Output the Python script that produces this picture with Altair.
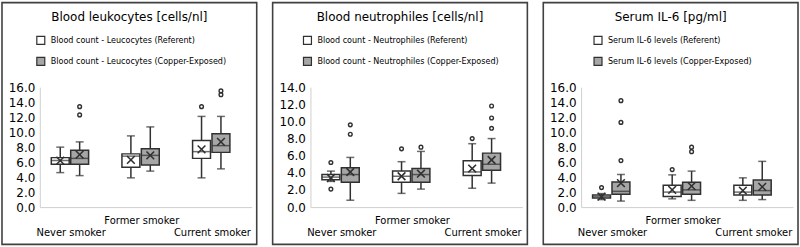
import altair as alt
import pandas as pd

categories = ["Never smoker", "Former smoker", "Current smoker"]

panel_titles = ["Blood leukocytes [cells/nl]", "Blood neutrophiles [cells/nl]", "Serum IL-6 [pg/ml]"]
leuko_labels = ["Blood count - Leucocytes (Referent)", "Blood count - Leucocytes (Copper-Exposed)"]
neutro_labels = ["Blood count - Neutrophiles (Referent)", "Blood count - Neutrophiles (Copper-Exposed)"]
il6_labels = ["Serum IL-6 levels (Referent)", "Serum IL-6 levels (Copper-Exposed)"]

ticks_16 = [0, 2, 4, 6, 8, 10, 12, 14, 16]
ticks_14 = [0, 2, 4, 6, 8, 10, 12, 14]

# (lower whisker, Q1, median, Q3, upper whisker) per category
leuko_ref_box = [(4.6, 5.7, 6.2, 6.6, 8.0), (3.9, 5.3, 6.8, 7.1, 9.5), (3.9, 6.5, 7.4, 8.9, 12.1)]
leuko_exp_box = [(4.2, 5.7, 6.5, 7.6, 8.7), (4.8, 5.6, 6.9, 7.8, 10.7), (5.1, 7.3, 8.2, 9.8, 12.1)]
leuko_ref_mean = [6.2, 6.3, 7.7]
leuko_exp_mean = [7.0, 6.9, 8.7]
leuko_ref_out = [[], [], [13.4]]
leuko_exp_out = [[13.4, 12.3], [], [15.5, 15.0]]

neutro_ref_box = [(3.0, 3.2, 3.5, 3.8, 4.2), (1.6, 2.9, 3.6, 4.2, 5.3), (2.2, 3.7, 4.1, 5.4, 7.4)]
neutro_exp_box = [(0.8, 2.9, 3.8, 4.6, 5.8), (2.1, 2.9, 3.8, 4.5, 6.5), (2.8, 4.3, 5.0, 6.3, 8.0)]
neutro_ref_mean = [3.4, 3.6, 4.5]
neutro_exp_mean = [4.1, 3.9, 5.5]
neutro_ref_out = [[5.2, 2.1], [6.8], [8.0]]
neutro_exp_out = [[9.6, 8.5], [7.0], [11.8, 10.4, 9.2]]

il6_ref_box = [(1.0, 1.2, 1.4, 1.6, 1.8), (1.1, 1.4, 2.0, 2.9, 4.3), (0.9, 1.6, 2.0, 2.9, 3.9)]
il6_exp_box = [(0.8, 1.7, 2.1, 3.35, 4.35), (0.9, 1.7, 2.3, 3.3, 4.8), (1.0, 1.6, 2.2, 3.6, 6.1)]
il6_ref_mean = [1.4, 2.3, 2.2]
il6_exp_mean = [3.2, 2.8, 2.7]
il6_ref_out = [[2.6], [5.0], []]
il6_exp_out = [[14.2, 11.3, 6.2], [8.0, 7.4], []]

INK = "#303030"
AXIS_LINE = "#d0d0d0"
FILL_REF = "#ffffff"
FILL_EXP = "#a6a6a6"
FONT = "DejaVu Sans"
LEGEND_FONT = "DejaVu Sans Condensed, DejaVu Sans"
X_SHAPE = "M-1,-1L1,1M1,-1L-1,1"

W, H = 256, 243
Y_BOTTOM, Y_TOP = 205.5, 85
X_LEFT, X_RIGHT = 38, 251


def frames(labels, ref_box, exp_box, ref_mean, exp_mean, ref_out, exp_out):
    rows, pts = [], []
    for lab, box, mean, outs in [(labels[0], ref_box, ref_mean, ref_out),
                                 (labels[1], exp_box, exp_mean, exp_out)]:
        for c, b, m, o in zip(categories, box, mean, outs):
            rows.append(dict(cat=c, series=lab, lo=b[0], q1=b[1], med=b[2], q3=b[3], hi=b[4], mean=m))
            for v in o:
                pts.append(dict(cat=c, series=lab, v=v))
    return pd.DataFrame(rows), pd.DataFrame(pts)


def panel(title, labels, ticks, box_df, out_df, legend_x):
    ymax = ticks[-1]
    x_enc = alt.X(
        "cat:N", sort=categories,
        scale=alt.Scale(domain=categories, range=[X_LEFT, X_RIGHT], paddingInner=0, paddingOuter=0),
        axis=alt.Axis(title=None, offset=-(H - Y_BOTTOM), ticks=False, domainColor=AXIS_LINE,
                      domainWidth=1, labelAngle=0, labelFont=FONT, labelFontSize=10,
                      labelColor="black", labelPadding=9, labelLineHeight=11.5,
                      labelBaseline="top", labelOffset=-4, labelOverlap=False,
                      labelExpr="datum.value == 'Former smoker' ? [datum.value] : ['', datum.value]"),
    )
    xo_enc = alt.XOffset(
        "series:N", sort=labels,
        scale=alt.Scale(domain=labels, range=[10.8, 49.8], paddingInner=0, paddingOuter=0),
    )

    def y_enc(field):
        return alt.Y(
            f"{field}:Q",
            scale=alt.Scale(domain=[0, ymax], range=[Y_BOTTOM, Y_TOP], nice=False, zero=True),
            axis=alt.Axis(title=None, offset=-X_LEFT, values=ticks, format=".1f", ticks=False,
                          grid=False, domainColor=AXIS_LINE, domainWidth=1, labelFont=FONT,
                          labelFontSize=12, labelColor="black", labelPadding=5),
        )

    base = alt.Chart(box_df)
    whisker = base.mark_rule(color=INK, strokeWidth=1.5).encode(
        x=x_enc, xOffset=xo_enc, y=y_enc("lo"), y2="hi:Q")
    cap_lo = base.mark_tick(color=INK, size=8, thickness=1.5).encode(
        x=x_enc, xOffset=xo_enc, y=y_enc("lo"))
    cap_hi = base.mark_tick(color=INK, size=8, thickness=1.5).encode(
        x=x_enc, xOffset=xo_enc, y=y_enc("hi"))
    box = base.mark_bar(width=18, stroke=INK, strokeWidth=1.5).encode(
        x=x_enc, xOffset=xo_enc, y=y_enc("q1"), y2="q3:Q",
        fill=alt.Fill(
            "series:N", sort=labels,
            scale=alt.Scale(domain=labels, range=[FILL_REF, FILL_EXP]),
            legend=alt.Legend(title=None, orient="none", legendX=legend_x, legendY=33,
                              direction="vertical", symbolType="square", symbolSize=64,
                              symbolStrokeColor=INK, symbolStrokeWidth=1.2,
                              labelFont=LEGEND_FONT, labelFontSize=9, labelColor="black",
                              rowPadding=7, padding=0, labelOffset=5, labelLimit=400),
        ),
    )
    median = base.mark_tick(color=INK, size=18, thickness=1.5).encode(
        x=x_enc, xOffset=xo_enc, y=y_enc("med"))
    mean = base.mark_point(shape=X_SHAPE, size=60, filled=False, color=INK, strokeWidth=1.6,
                           opacity=1).encode(x=x_enc, xOffset=xo_enc, y=y_enc("mean"))
    outliers = alt.Chart(out_df).mark_point(shape="circle", size=14, filled=False, color=INK,
                                            strokeWidth=1.4, opacity=1).encode(
        x=x_enc, xOffset=xo_enc, y=y_enc("v"))
    head = alt.Chart(pd.DataFrame({"t": [title]})).mark_text(
        font=FONT, fontSize=12, color="black", align="center", baseline="middle").encode(
        text="t:N", x=alt.value(128), y=alt.value(14))

    return alt.layer(whisker, cap_lo, cap_hi, box, median, mean, outliers, head).properties(
        width=W, height=H)


p1 = panel(panel_titles[0], leuko_labels, ticks_16,
           *frames(leuko_labels, leuko_ref_box, leuko_exp_box, leuko_ref_mean, leuko_exp_mean,
                   leuko_ref_out, leuko_exp_out), legend_x=34)
p2 = panel(panel_titles[1], neutro_labels, ticks_14,
           *frames(neutro_labels, neutro_ref_box, neutro_exp_box, neutro_ref_mean, neutro_exp_mean,
                   neutro_ref_out, neutro_exp_out), legend_x=30)
p3 = panel(panel_titles[2], il6_labels, ticks_16,
           *frames(il6_labels, il6_ref_box, il6_exp_box, il6_ref_mean, il6_exp_mean,
                   il6_ref_out, il6_exp_out), legend_x=50)

chart = alt.hconcat(p1, p2, p3, spacing=14).resolve_scale(
    fill="independent", xOffset="independent"
).properties(
    padding={"left": 1, "top": 1, "right": 1, "bottom": 1},
    background="white",
).configure_view(stroke="#404040", strokeWidth=1.6)

chart.save("out.html", embed_options={"renderer": "svg", "actions": False})
